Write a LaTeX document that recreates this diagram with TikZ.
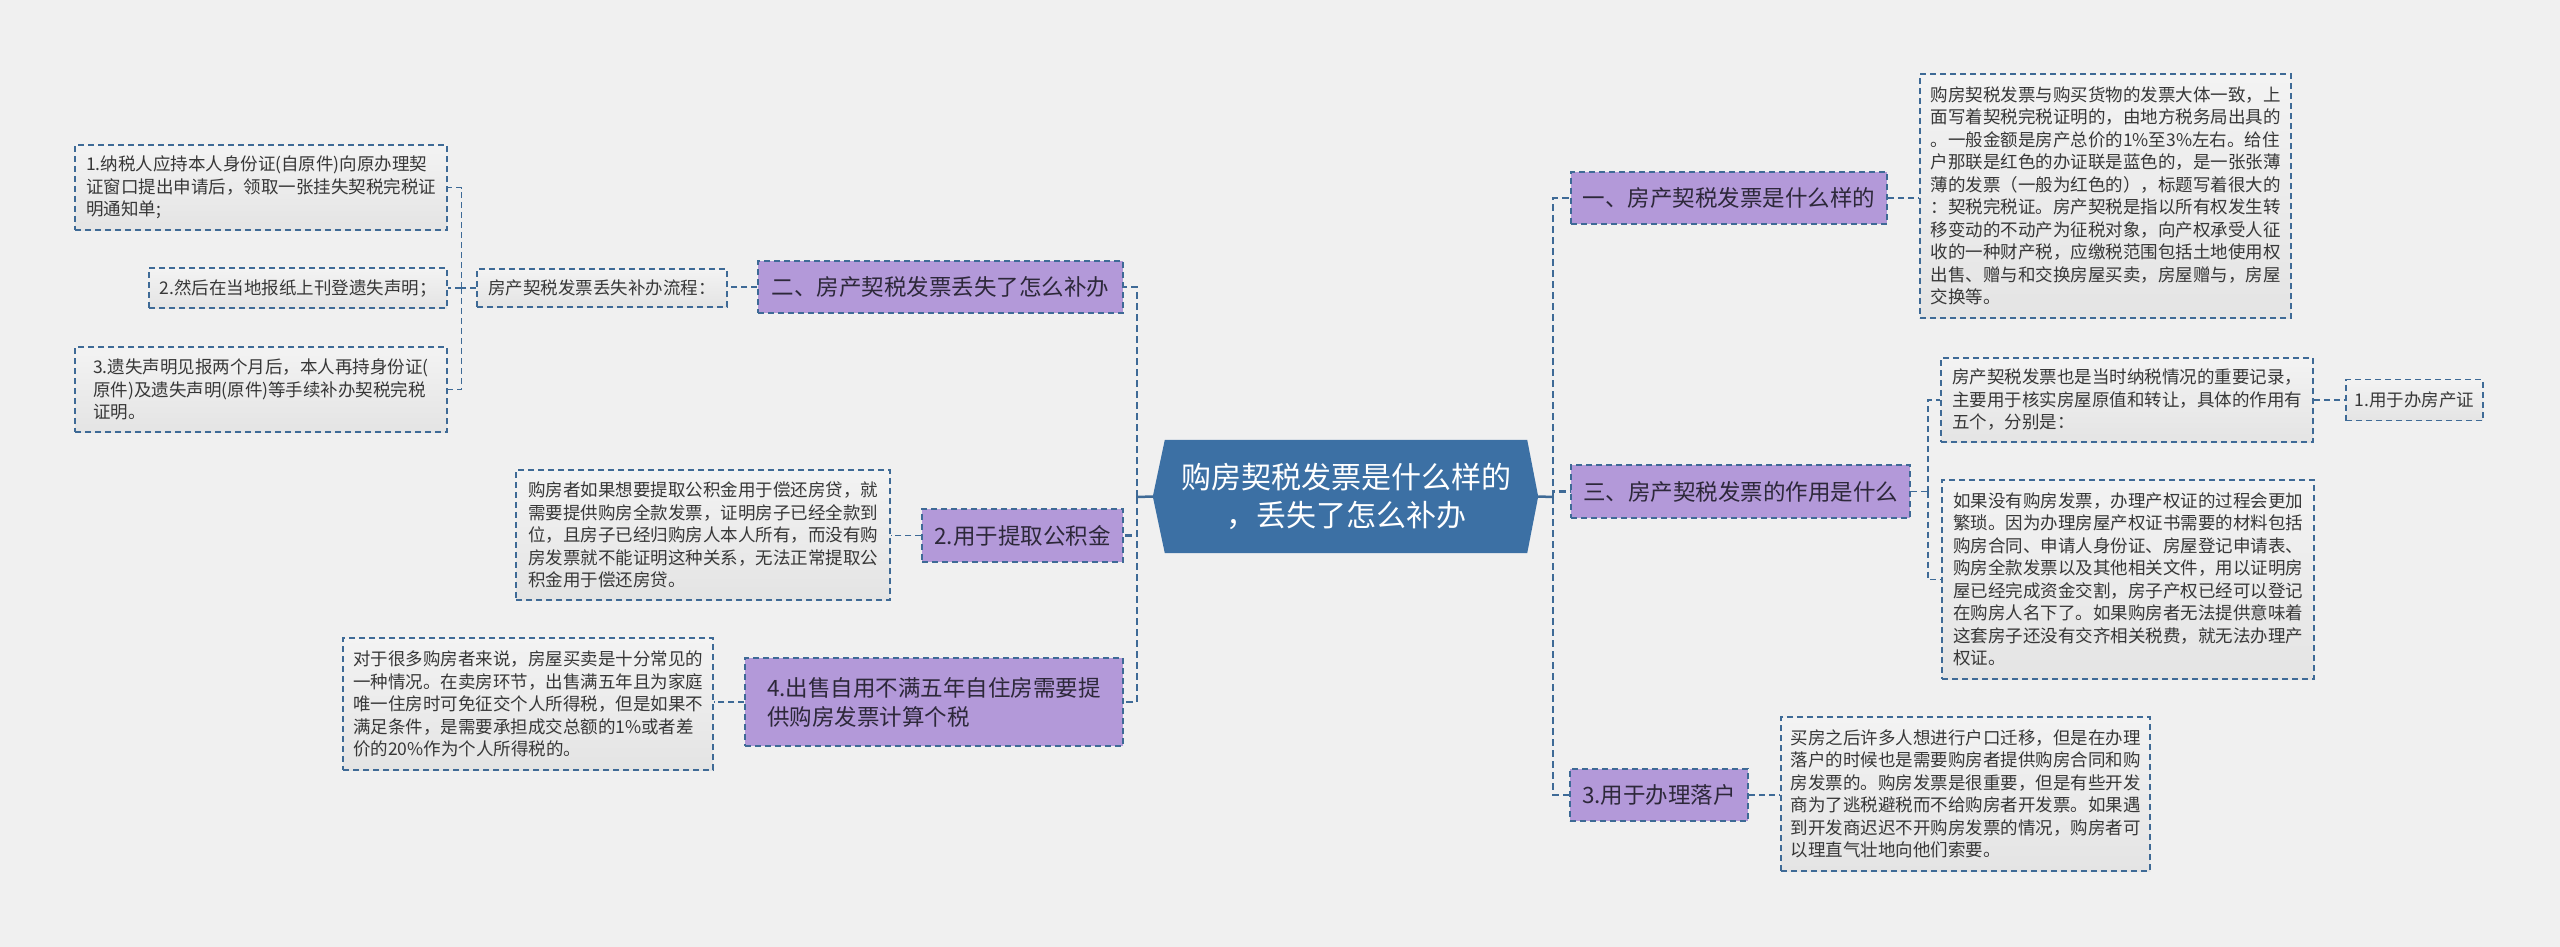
\documentclass[tikz,border=0pt]{standalone}
\usepackage{fontspec}
\setmainfont{Noto Sans CJK SC}
\usetikzlibrary{calc,backgrounds}
\definecolor{bgc}{RGB}{240,240,240}
\definecolor{bord}{RGB}{62,106,150}
\definecolor{purp}{RGB}{179,153,217}
\definecolor{ptxt}{RGB}{45,40,58}
\definecolor{txt}{RGB}{55,55,55}
\definecolor{cfill}{RGB}{60,112,164}
\definecolor{boxtop}{RGB}{243,243,243}
\definecolor{boxbot}{RGB}{228,228,228}
\begin{document}
\begin{tikzpicture}[x=1pt,y=-1pt,
  sz/.style 2 args={minimum width=#1pt,minimum height=#2pt},
  tbox/.style={draw=bord,dash pattern=on 6pt off 4pt,line width=1.5pt,top color=boxtop,bottom color=boxbot,
    font=\fontsize{17.5}{22.5}\selectfont,text=txt,align=left,inner sep=0pt},
  pbox/.style={draw=bord,dash pattern=on 6pt off 4pt,line width=1.5pt,fill=purp,
    font=\fontsize{22.5}{29}\selectfont,text=ptxt,align=left,inner sep=0pt},
  cnode/.style={font=\fontsize{30}{38}\selectfont,text=white,align=center,inner sep=0pt},
  conn/.style={draw=bord,line width=1.5pt,dash pattern=on 6pt off 4pt},
  trunk/.style={draw=bord,line width=2.3pt,dash pattern=on 7pt off 4pt},
  trunkS/.style={draw=bord,line width=2.5pt}]
\useasboundingbox (0,0) rectangle (2560,947);

% central
\node[cnode,sz={362}{113}] (c) at (1346,496.5) {购房契税发票是什么样的\\，丢失了怎么补办};
\coordinate (cL) at ($(c.west)+(-12,0)$);
\coordinate (cR) at ($(c.east)+(11,0)$);
\begin{scope}[on background layer]
\fill[bgc] (0,0) rectangle (2560,947);
\fill[cfill] (c.north west) -- (c.north east) -- (cR) -- (c.south east) -- (c.south west) -- (cL) -- cycle;
\end{scope}

% left branches
\node[pbox,sz={365}{52}] (b2) at (940.5,287) {二、房产契税发票丢失了怎么补办};
\node[pbox,sz={201}{53}] (b3) at (1022.5,535.5) {2.用于提取公积金};
\node[pbox,sz={378}{88}] (b4) at (934,702) {4.出售自用不满五年自住房需要提\\供购房发票计算个税};

\node[tbox,sz={250}{38}] (p) at (602,288) {房产契税发票丢失补办流程：};
\node[tbox,sz={372}{85}] (l1) at (261,187.5) {1.纳税人应持本人身份证(自原件)向原办理契\\证窗口提出申请后，领取一张挂失契税完税证\\明通知单;};
\node[tbox,sz={298}{40}] (l2) at (298,288) {2.然后在当地报纸上刊登遗失声明；};
\node[tbox,sz={372}{85}] (l3) at (261,389.5) {3.遗失声明见报两个月后，本人再持身份证(\\原件)及遗失声明(原件)等手续补办契税完税\\证明。};

\node[tbox,sz={374}{130}] (t3) at (703,535) {购房者如果想要提取公积金用于偿还房贷，就\\需要提供购房全款发票，证明房子已经全款到\\位，且房子已经归购房人本人所有，而没有购\\房发票就不能证明这种关系，无法正常提取公\\积金用于偿还房贷。};
\node[tbox,sz={370}{132}] (t4) at (528,704) {对于很多购房者来说，房屋买卖是十分常见的\\一种情况。在卖房环节，出售满五年且为家庭\\唯一住房时可免征交个人所得税，但是如果不\\满足条件，是需要承担成交总额的1\%或者差\\价的20\%作为个人所得税的。};

% right branches
\node[pbox,sz={316}{52}] (r1) at (1729,198) {一、房产契税发票是什么样的};
\node[pbox,sz={339}{53}] (r3) at (1740.5,491.5) {三、房产契税发票的作用是什么};
\node[pbox,sz={178}{52}] (r4) at (1659,795) {3.用于办理落户};

\node[tbox,sz={371}{244}] (t1) at (2105.5,196) {购房契税发票与购买货物的发票大体一致，上\\面写着契税完税证明的，由地方税务局出具的\\。一般金额是房产总价的1\%至3\%左右。给住\\户那联是红色的办证联是蓝色的，是一张张薄\\薄的发票（一般为红色的），标题写着很大的\\：契税完税证。房产契税是指以所有权发生转\\移变动的不动产为征税对象，向产权承受人征\\收的一种财产税，应缴税范围包括土地使用权\\出售、赠与和交换房屋买卖，房屋赠与，房屋\\交换等。};
\node[tbox,sz={372}{84}] (tA) at (2127,400) {房产契税发票也是当时纳税情况的重要记录，\\主要用于核实房屋原值和转让，具体的作用有\\五个，分别是：};
\node[tbox,sz={137}{41}] (tA1) at (2414.5,400) {1.用于办房产证};
\node[tbox,sz={372}{199}] (tB) at (2128,579.5) {如果没有购房发票，办理产权证的过程会更加\\繁琐。因为办理房屋产权证书需要的材料包括\\购房合同、申请人身份证、房屋登记申请表、\\购房全款发票以及其他相关文件，用以证明房\\屋已经完成资金交割，房子产权已经可以登记\\在购房人名下了。如果购房者无法提供意味着\\这套房子还没有交齐相关税费，就无法办理产\\权证。};
\node[tbox,sz={369}{154}] (t5) at (1965.5,794) {买房之后许多人想进行户口迁移，但是在办理\\落户的时候也是需要购房者提供购房合同和购\\房发票的。购房发票是很重要，但是有些开发\\商为了逃税避税而不给购房者开发票。如果遇\\到开发商迟迟不开购房发票的情况，购房者可\\以理直气壮地向他们索要。};

% trunks
\coordinate (jL) at (1137,497);
\coordinate (jR) at (1553,497);
\draw[trunkS] (cL) -- (jL);
\draw[trunkS] (cR) -- (jR);
\draw[trunk] (jL) |- (b2.east);
\draw[trunk] (jL) |- (b3.east);
\draw[trunk] (jL) |- (b4.east);
\draw[trunk] (jR) |- (r1.west);
\draw[trunk] (jR) |- (r3.west);
\draw[trunk] (jR) |- (r4.west);

% level 2 connectors
\draw[conn] (b2.west) -- (p.east |- b2.west);
\coordinate (jP) at ($(p.west)+(-15,0)$);
\draw[conn] (p.west) -- (jP);
\draw[conn] (jP) |- (l1.east);
\draw[conn] (jP) |- (l2.east);
\draw[conn] (jP) |- (l3.east);
\draw[conn] (b3.west) -- (t3.east |- b3.west);
\draw[conn] (b4.west) -- (t4.east |- b4.west);
\draw[conn] (r1.east) -- (t1.west |- r1.east);
\coordinate (j3) at ($(r3.east)+(17,0)$);
\draw[conn] (r3.east) -- (j3);
\draw[conn] (j3) |- (tA.west);
\draw[conn] (j3) |- (tB.west);
\draw[conn] (tA.east) -- (tA1.west);
\draw[conn] (r4.east) -- (t5.west |- r4.east);
\end{tikzpicture}
\end{document}
